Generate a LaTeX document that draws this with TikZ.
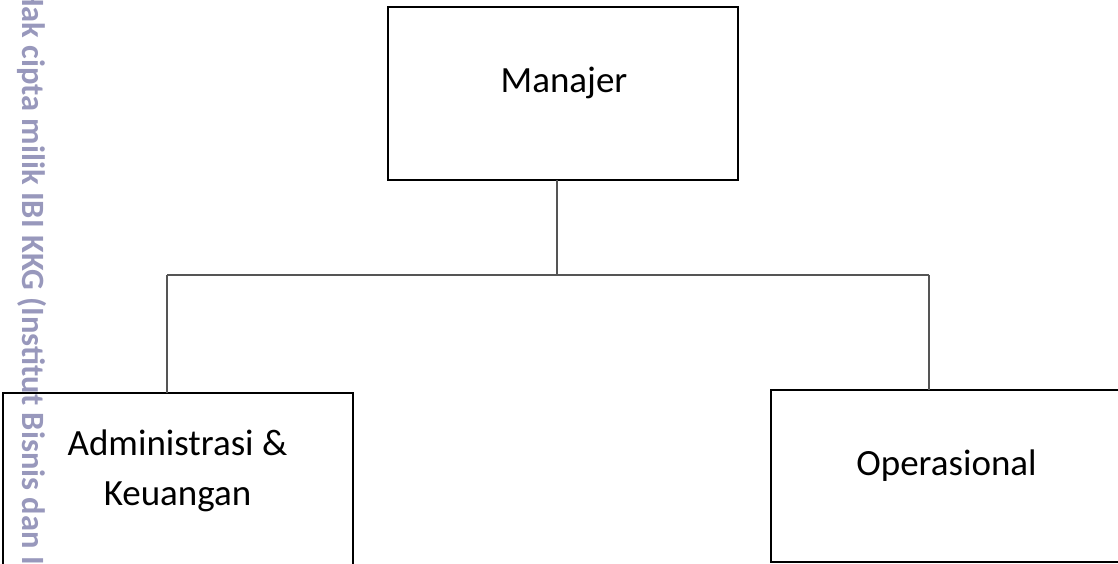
\documentclass[tikz,border=0pt]{standalone}
\usepackage{fontspec}
\setmainfont{Carlito}
\definecolor{wm}{RGB}{152,152,188}
\definecolor{conn}{RGB}{85,85,85}
\tikzset{
  orgbox/.style={draw=black, line width=2.6pt, inner sep=0pt, outer sep=0pt, fill=none},
  conline/.style={draw=conn, line width=1.6pt},
  lbl/.style={font=\fontsize{37}{45}\selectfont, inner sep=0pt, anchor=base},
  wmark/.style={text=wm, font=\fontsize{32.5}{38}\selectfont\bfseries, inner sep=0pt, rotate=-90, anchor=base west}
}
\begin{document}
\begin{tikzpicture}[x=1pt,y=-1pt]
\clip (0,0) rectangle (1118,564);
\fill[white] (0,0) rectangle (1118,564);
% boxes
\node[orgbox, minimum width=350pt, minimum height=173pt] (m) at (563,93.5) {};
\node[orgbox, minimum width=350pt, minimum height=173pt] (a) at (178,479.5) {};
\node[orgbox, minimum width=349pt, minimum height=172pt] (o) at (945.5,476) {};
% texts
\node[lbl] (mt) at (564,93) {Manajer};
\node[lbl] (at1) at (177.5,455) {Administrasi \&};
\node[lbl] (at2) at (177.5,505) {Keuangan};
\node[lbl] (ot) at (946.5,475) {Operasional};
% connectors
\coordinate (j) at (557,275);
\coordinate (jl) at (167,275);
\coordinate (jr) at (929,275);
\draw[conline] (m.south -| j) -- (j);
\draw[conline] (jl) -- (jr);
\draw[conline] (jl) -- (jl |- a.north);
\draw[conline] (jr) -- (jr |- o.north);
% watermark
\node[wmark] (wm) at (23,-14) {Hak cipta milik IBI KKG (Institut Bisnis dan Informatika Kwik Kian Gie)};
\end{tikzpicture}
\end{document}
